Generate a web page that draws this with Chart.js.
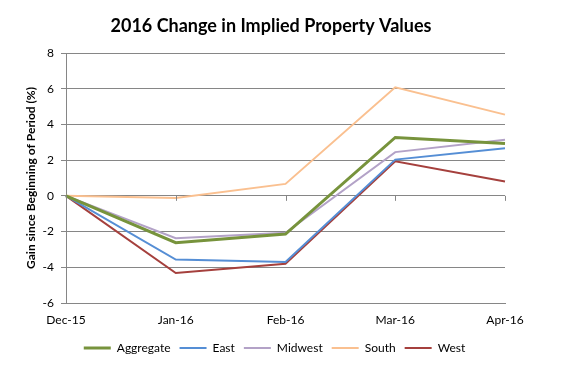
<!DOCTYPE html>
<html>
<head>
<meta charset="utf-8">
<script src="https://cdn.jsdelivr.net/npm/chart.js@4"></script>
<style>
  html, body { margin: 0; padding: 0; background: #fff; }
  #wrap { width: 572px; height: 371px; }
</style>
</head>
<body>
<div id="wrap"><canvas id="lineChart" width="572" height="371"></canvas></div>
<script>
const months = ['Dec-15', 'Jan-16', 'Feb-16', 'Mar-16', 'Apr-16'];
const aggregate = [0, -2.62, -2.14, 3.27, 2.93];
const east = [0, -3.57, -3.7, 2.03, 2.66];
const midwest = [0, -2.37, -2.07, 2.45, 3.14];
const south = [0, -0.12, 0.67, 6.08, 4.55];
const west = [0, -4.32, -3.8, 1.94, 0.81];
const yTicks = [-6, -4, -2, 0, 2, 4, 6, 8];

const gridColor = '#868686';
Chart.defaults.font.family = 'Lato, "Open Sans", sans-serif';
Chart.defaults.color = '#000';

function series(label, data, color, width) {
    return {
        label: label,
        data: data,
        borderColor: color,
        backgroundColor: color,
        borderWidth: width,
        pointRadius: 0,
        tension: 0,
        fill: false
    };
}

// tick marks on the horizontal axis, which crosses at 0
const zeroTicks = {
    id: 'zeroTicks',
    afterDatasetsDraw(chart) {
        const xs = chart.scales.x, ys = chart.scales.y;
        const y0 = ys.getPixelForValue(0);
        const c = chart.ctx;
        c.save();
        c.strokeStyle = gridColor;
        c.lineWidth = 1;
        months.forEach((_, i) => {
            const x = Math.round(xs.getPixelForValue(i)) + 0.5;
            c.beginPath();
            c.moveTo(x, y0);
            c.lineTo(x, y0 + 5);
            c.stroke();
        });
        c.restore();
    }
};

const chartTitle = {
    id: 'chartTitle',
    afterLayout(chart) {
        // legend sits a bit left of the canvas centre in the original
        chart.legend.left += 22;
        chart.legend.right += 22;
    },
    afterDraw(chart) {
        const c = chart.ctx;
        c.save();
        c.font = 'bold 18px Lato, "Open Sans", sans-serif';
        c.fillStyle = '#000';
        c.textAlign = 'center';
        c.textBaseline = 'middle';
        c.fillText('2016 Change in Implied Property Values', 271, 26);
        c.restore();
    }
};

const ctx = document.getElementById('lineChart').getContext('2d');
new Chart(ctx, {
    type: 'line',
    data: {
        labels: months,
        datasets: [
            series('Aggregate', aggregate, '#77933C', 3),
            series('East', east, '#558ED5', 2),
            series('Midwest', midwest, '#B3A2C7', 2),
            series('South', south, '#FAC090', 2),
            series('West', west, '#A5403D', 2)
        ]
    },
    plugins: [zeroTicks, chartTitle],
    options: {
        responsive: false,
        animation: false,
        layout: { padding: { top: 53, right: 67, bottom: 7, left: 0 } },
        scales: {
            x: {
                offset: false,
                grid: { drawOnChartArea: false, drawTicks: false },
                border: { color: gridColor },
                ticks: { padding: 10, font: { size: 12 }, maxRotation: 0, autoSkip: false },
                afterFit(scale) { scale.height = 30; }
            },
            y: {
                min: -6,
                max: 8,
                afterBuildTicks(scale) { scale.ticks = yTicks.map(v => ({ value: v })); },
                grid: { color: gridColor, tickLength: 5 },
                border: { color: gridColor },
                ticks: { padding: 7, font: { size: 12 } },
                title: {
                    display: true,
                    text: 'Gain since Beginning of Period (%)',
                    font: { size: 12, weight: 'bold' },
                    padding: { top: 24, bottom: 0 }
                },
                afterFit(scale) { scale.width = 66; }
            }
        },
        plugins: {
            title: { display: false },
            tooltip: { enabled: false },
            legend: {
                position: 'bottom',
                labels: {
                    usePointStyle: true,
                    pointStyle: 'line',
                    pointStyleWidth: 27,
                    boxHeight: 12,
                    padding: 9,
                    font: { size: 12 },
                    color: '#000'
                }
            }
        }
    }
});
</script>
</body>
</html>
